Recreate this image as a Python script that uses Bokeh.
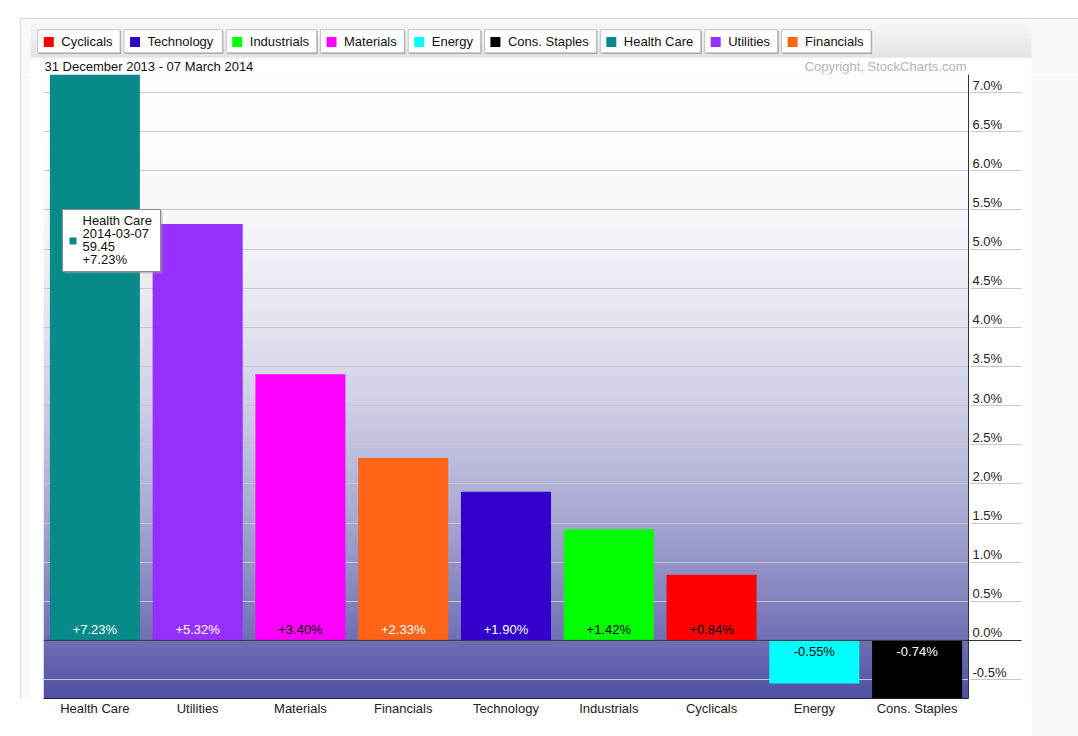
import numpy as np
from bokeh.plotting import figure
from bokeh.layouts import column, row
from bokeh.models import (ColumnDataSource, FactorRange, Range1d, LinearAxis, FixedTicker,
                          PrintfTickFormatter, BoxAnnotation, Label, Span)
from bokeh.core.properties import value
from bokeh.embed import file_html
from bokeh.resources import INLINE

# ---------------- data ----------------
SECTORS = ["Health Care", "Utilities", "Materials", "Financials", "Technology",
           "Industrials", "Cyclicals", "Energy", "Cons. Staples"]
CHANGES = [7.23, 5.32, 3.40, 2.33, 1.90, 1.42, 0.84, -0.55, -0.74]
LEGEND_ORDER = ["Cyclicals", "Technology", "Industrials", "Materials", "Energy",
                "Cons. Staples", "Health Care", "Utilities", "Financials"]
Y_TICKS = [-0.5, 0.0, 0.5, 1.0, 1.5, 2.0, 2.5, 3.0, 3.5, 4.0, 4.5, 5.0, 5.5, 6.0, 6.5, 7.0]
DATE_RANGE = "31 December 2013 - 07 March 2014"
COPYRIGHT = "Copyright, StockCharts.com"
TIP_SECTOR = "Health Care"
TIP_DATE = "2014-03-07"
TIP_CLOSE = "59.45"
TIP_CHANGE = 7.23

# ---------------- style ----------------
COLORS = {"Cyclicals": "#ff0000", "Technology": "#3300cc", "Industrials": "#00ff00",
          "Materials": "#ff00ff", "Energy": "#00ffff", "Cons. Staples": "#000000",
          "Health Care": "#088a8a", "Utilities": "#9630ff", "Financials": "#ff6418"}
LIGHT_TEXT = {"Health Care", "Utilities", "Financials", "Technology", "Cons. Staples"}
FONT = "Liberation Sans"
GRID = "#c8c8cc"
CARD = "#f8f9fa"
CARD_LINE = "#d8d8d8"
W, H = 1078, 736
TOP_H = 74                    # height of the header strip figure
LEFT_W, RIGHT_W = 30, 47      # side decoration figures
MAIN_W = W - LEFT_W - RIGHT_W
MAIN_H = H - TOP_H
FL, FR, FB = 43, 968, 698     # plot frame edges in page pixels (top = TOP_H)

ARIAL = {" ": 278, ".": 278, "C": 722, "E": 667, "F": 611, "H": 722, "I": 278, "M": 833,
         "S": 667, "T": 611, "U": 722, "a": 556, "c": 500, "d": 556, "e": 556, "g": 556,
         "h": 556, "i": 222, "l": 222, "n": 556, "o": 556, "p": 556, "r": 333, "s": 500,
         "t": 278, "u": 556, "y": 500, "-": 333, "0": 556, "5": 556, "%": 889}


def text_w(s, size):
    return sum(ARIAL.get(ch, 556) for ch in s) * size / 1000.0


def bare_fig(w, h, xr, yr, bg="white"):
    f = figure(width=w, height=h, x_range=xr, y_range=yr, min_border=0, title=None,
               toolbar_location=None, output_backend="svg", x_axis_location=None,
               y_axis_location=None, outline_line_color=None,
               background_fill_color=bg, border_fill_color=bg)
    f.xgrid.visible = False
    f.ygrid.visible = False
    return f


# ================= header strip (legend buttons, date range, copyright) =================
top = bare_fig(W, TOP_H, Range1d(0, W), Range1d(TOP_H, 0))
top.quad(left=[20], right=[W + 10], top=[18], bottom=[TOP_H + 10],
         fill_color=CARD, line_color=CARD_LINE, line_width=1)
top.quad(left=[30], right=[1031], top=[22], bottom=[TOP_H + 10],
         fill_color="white", line_color=None)
n_str = 35
shade = [int(round(244 - (244 - 218) * i / (n_str - 1))) for i in range(n_str)]
top.quad(left=[30] * n_str, right=[1031] * n_str,
         top=[22 + i for i in range(n_str)], bottom=[23 + i for i in range(n_str)],
         fill_color=["#%02x%02x%02x" % (c, c, c) for c in shade], line_color=None)

bl, br = [], []
bx = 37.3
for name in LEGEND_ORDER:
    w = text_w(name, 13) + 31
    bl.append(bx)
    br.append(bx + w)
    bx += w + 4
leg = ColumnDataSource(dict(
    name=LEGEND_ORDER, l=bl, r=br,
    sl=[v + 1 for v in bl], sr=[v + 1 for v in br],
    ql=[v + 6 for v in bl], qr=[v + 16 for v in bl], tx=[v + 23.5 for v in bl],
    color=[COLORS[n] for n in LEGEND_ORDER],
))
top.quad(left="sl", right="sr", top=30.3, bottom=53.3, source=leg,
         fill_color="#8a8a8a", line_color=None)
top.quad(left="l", right="r", top=29.3, bottom=52.3, source=leg,
         fill_color="white", line_color="#c4c4c4", line_width=1)
top.quad(left="ql", right="qr", top=36.5, bottom=46.5, source=leg,
         fill_color="color", line_color=None)
top.text(x="tx", y=41, text="name", source=leg, text_color="#111111",
         text_align="left", text_baseline="middle",
         text_font=value(FONT), text_font_size="13px")
top.text(x=[44], y=[66], text=[DATE_RANGE], text_color="#111111", text_align="left",
         text_baseline="middle", text_font=value(FONT), text_font_size="13px")
top.text(x=[966], y=[66], text=[COPYRIGHT], text_color="#b4b4b4", text_align="right",
         text_baseline="middle", text_font=value(FONT), text_font_size="13px")

# ================= left / right page decorations =================
left = bare_fig(LEFT_W, MAIN_H, Range1d(0, LEFT_W), Range1d(MAIN_H, 0))
left.quad(left=[20], right=[LEFT_W + 10], top=[-10], bottom=[MAIN_H + 10],
          fill_color=CARD, line_color=CARD_LINE, line_width=1)
right = bare_fig(RIGHT_W, MAIN_H, Range1d(0, RIGHT_W), Range1d(MAIN_H, 0), bg=CARD)
right.quad(left=[0], right=[RIGHT_W], top=[0], bottom=[MAIN_H],
           fill_color=CARD, line_color=None)

# ================= main chart =================
y0 = min(CHANGES) - 0.002
y1 = max(CHANGES)
frame_h = FB - TOP_H
px_per_unit = frame_h / (y1 - y0)

p = figure(width=MAIN_W, height=MAIN_H, x_range=FactorRange(*SECTORS),
           y_range=Range1d(y0, y1), title=None,
           min_border_left=FL - LEFT_W, min_border_right=MAIN_W - (FR - LEFT_W),
           min_border_top=0, min_border_bottom=MAIN_H - frame_h,
           y_axis_location=None, toolbar_location=None, output_backend="svg",
           background_fill_color="white", border_fill_color="white",
           outline_line_color=None)

# gradient background of the plotting area
N = frame_h
s = 1.0 - (np.arange(N) + 0.5) / N
t = s ** 2
img = np.empty((N, 1), dtype=np.uint32)
v = img.view(dtype=np.uint8).reshape((N, 1, 4))
v[:, 0, 0] = (255 - t * (255 - 80)).astype(np.uint8)
v[:, 0, 1] = (255 - t * (255 - 80)).astype(np.uint8)
v[:, 0, 2] = (255 - t * (255 - 165)).astype(np.uint8)
v[:, 0, 3] = 255
p.image_rgba(image=[img], x=0, y=y0, dw=len(SECTORS), dh=y1 - y0, level="image")

p.xgrid.grid_line_color = None
p.ygrid.ticker = FixedTicker(ticks=Y_TICKS)
p.ygrid.grid_line_color = GRID
p.ygrid.grid_line_width = 1

src = ColumnDataSource(dict(
    sector=SECTORS, change=CHANGES,
    color=[COLORS[sct] for sct in SECTORS],
    label=[f"{c:+.2f}%" for c in CHANGES],
    tcolor=["white" if sct in LIGHT_TEXT else "black" for sct in SECTORS],
    yoff=[-11 if c >= 0 else 11 for c in CHANGES],
))
p.vbar(x="sector", top="change", bottom=0, width=0.876, source=src,
       fill_color="color", line_color=None)
p.text(x="sector", y=0, text="label", y_offset="yoff", source=src,
       text_color="tcolor", text_align="center", text_baseline="middle",
       text_font=value(FONT), text_font_size="13px")

p.add_layout(Span(location=0, dimension="width", line_color="#333333", line_width=1))

xa = p.xaxis[0]
xa.axis_line_color = "#222222"
xa.major_tick_line_color = None
xa.major_tick_out = 0
xa.major_tick_in = 0
xa.minor_tick_line_color = None
xa.major_label_standoff = 2
xa.major_label_text_font = FONT
xa.major_label_text_font_size = "13px"
xa.major_label_text_color = "#222222"

# right axis: labels sit just above their grid lines (shifted range)
shift = 7.5 / px_per_unit
p.extra_y_ranges = {"lab": Range1d(y0 - shift, y1 - shift)}
ya = LinearAxis(y_range_name="lab", ticker=FixedTicker(ticks=Y_TICKS),
                formatter=PrintfTickFormatter(format="%.1f%%"))
ya.axis_line_color = "#333333"
ya.major_tick_line_color = None
ya.major_tick_out = 0
ya.major_tick_in = 0
ya.minor_tick_line_color = None
ya.major_label_standoff = 4
ya.major_label_text_font = FONT
ya.major_label_text_font_size = "13px"
ya.major_label_text_color = "#222222"
p.add_layout(ya, "right")

# second right axis: its ticks continue the grid lines under the labels
lab_w = 4 + text_w("-0.5%", 13)
ga = LinearAxis(ticker=FixedTicker(ticks=Y_TICKS),
                major_label_overrides={tk: "" for tk in Y_TICKS})
ga.axis_line_color = None
ga.major_tick_line_color = GRID
ga.major_tick_in = int(round(lab_w)) + 1
ga.major_tick_out = 12
ga.minor_tick_line_color = None
ga.major_label_standoff = 0
ga.major_label_text_font_size = "1px"
p.add_layout(ga, "right")

# third right axis: only the zero line continues, dark
za = LinearAxis(ticker=FixedTicker(ticks=[0.0]), major_label_overrides={0.0: ""})
za.axis_line_color = None
za.major_tick_line_color = "#333333"
za.major_tick_in = 56
za.major_tick_out = 0
za.minor_tick_line_color = None
za.major_label_standoff = 0
za.major_label_text_font_size = "1px"
p.add_layout(za, "right")


# tooltip (page pixel coords converted to this canvas, top-left origin)
def box(x0, y0_, x1, y1_, fill, line=None, alpha=1.0):
    p.add_layout(BoxAnnotation(left=x0 - LEFT_W, right=x1 - LEFT_W,
                               top=y0_ - TOP_H, bottom=y1_ - TOP_H,
                               left_units="canvas", right_units="canvas",
                               top_units="canvas", bottom_units="canvas",
                               fill_color=fill, fill_alpha=alpha,
                               line_color=line if line else fill,
                               line_alpha=1.0 if line else 0.0, line_width=1))


box(64, 211, 162, 273, "#9a9a9a", alpha=0.5)
box(62, 209, 160, 271, "white", line="#8c8c8c")
box(69, 237, 76, 244, COLORS[TIP_SECTOR])
p.add_layout(Label(x=82 - LEFT_W, y=212 - TOP_H, x_units="canvas", y_units="canvas",
                   text=f"{TIP_SECTOR}\n{TIP_DATE}\n{TIP_CLOSE}\n{TIP_CHANGE:+.2f}%",
                   text_color="#111111", text_align="left", text_baseline="top",
                   text_line_height=0.87, text_font=FONT, text_font_size="13px"))

page = column(top, row(left, p, right, spacing=0), spacing=0)
open("out.html", "w").write(file_html(page, INLINE))
